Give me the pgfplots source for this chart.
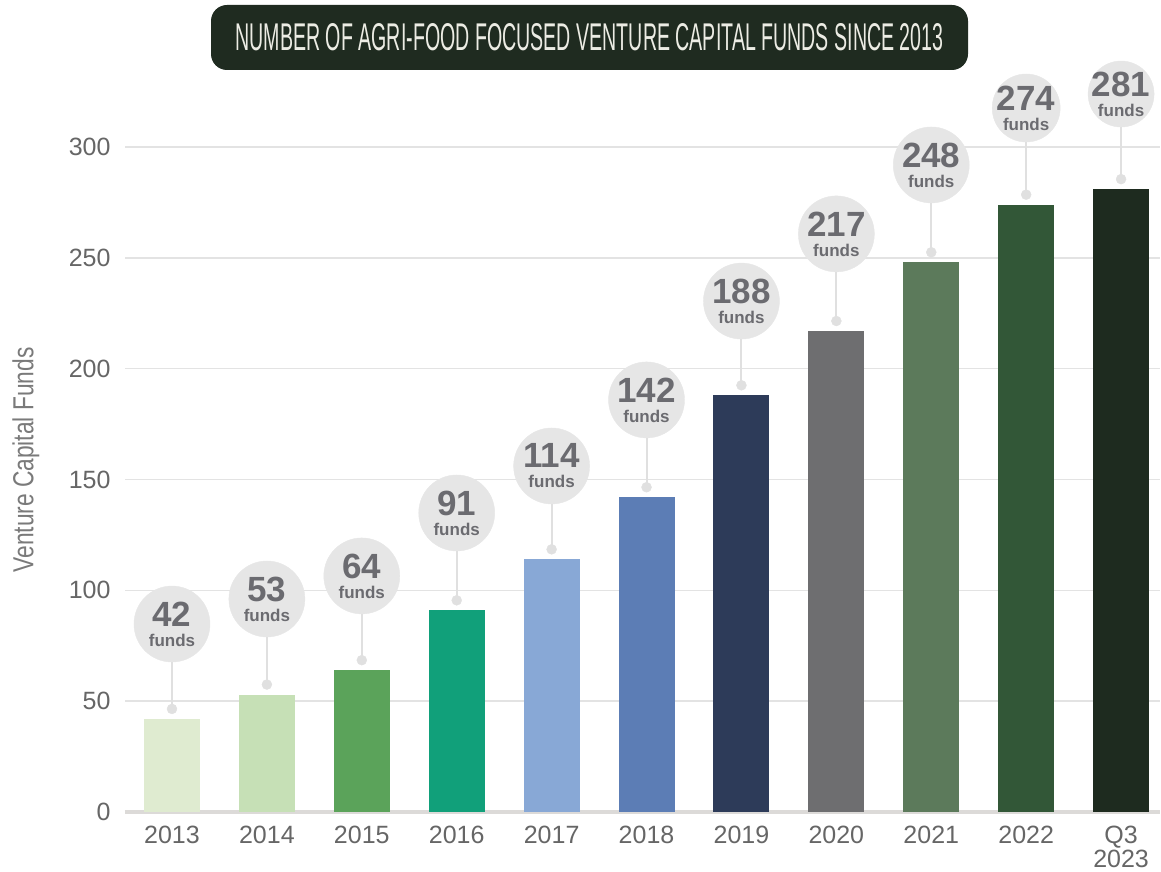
\documentclass[border=0pt]{standalone}
\usepackage{fontspec}
\setmainfont{Liberation Sans}
\usepackage{graphicx}
\usepackage{pgfplots}
\pgfplotsset{compat=1.18}
\usepackage{pgfplotstable}

\definecolor{c13}{HTML}{DFEBD0}
\definecolor{c14}{HTML}{C6E0B6}
\definecolor{c15}{HTML}{5BA35A}
\definecolor{c16}{HTML}{11A07A}
\definecolor{c17}{HTML}{88A8D6}
\definecolor{c18}{HTML}{5C7DB5}
\definecolor{c19}{HTML}{2D3B59}
\definecolor{c20}{HTML}{6E6E70}
\definecolor{c21}{HTML}{5C7A5B}
\definecolor{c22}{HTML}{325737}
\definecolor{c23}{HTML}{1E2B1F}
\definecolor{titlegreen}{HTML}{1F2B20}
\definecolor{titletext}{HTML}{ECECE4}
\definecolor{gridgray}{HTML}{E3E3E3}
\definecolor{axisgray}{HTML}{DCDAD8}
\definecolor{linegray}{HTML}{E0E0E0}
\definecolor{bubgray}{HTML}{E6E6E6}
\definecolor{bubtext}{HTML}{6B6B70}
\definecolor{tickgray}{HTML}{666666}
\definecolor{labelgray}{HTML}{7A7A7A}

\pgfplotstableread{
x val dot bub r lab
0 42 46.5 84.8 38 42
1 53 57.5 96.1 38 53
2 64 68.5 106.5 38 64
3 91 95.5 134.9 38 91
4 114 118.5 156.1 38 114
5 142 146.5 185.9 38 142
6 188 192.5 230.5 38 188
7 217 221.5 260.8 38 217
8 248 252.5 291.9 38 248
9 274 278.5 317.6 34 274
10 281 285.5 323.9 33 281
}\datatable

\begin{document}
\begin{tikzpicture}
\path[use as bounding box] (-125pt,-59pt) rectangle (1036pt,812pt);
\begin{axis}[
  at={(0pt,0pt)}, anchor=south west,
  scale only axis, width=1035pt, height=665pt,
  xmin=-0.495, xmax=10.41, ymin=0, ymax=300,
  clip=false,
  axis x line*=bottom, axis y line*=left,
  x axis line style={draw=axisgray, line width=4.5pt, -},
  y axis line style={draw=none},
  ymajorgrids, grid style={draw=gridgray, line width=1.5pt},
  major tick length=0pt,
  xtick={0,...,10},
  xticklabels={2013,2014,2015,2016,2017,2018,2019,2020,2021,2022,{Q3\\[-2pt]2023}},
  ytick={0,50,...,300},
  tick label style={font=\fontsize{25}{26}\selectfont, text=tickgray},
  xticklabel style={align=center, yshift=-11pt},
  yticklabel style={xshift=-11pt},
  /pgf/number format/assume math mode=true,
]
\addplot[ybar, bar width=56pt, bar shift=0pt, fill=c13, draw=none] coordinates {(0,42)};
\addplot[ybar, bar width=56pt, bar shift=0pt, fill=c14, draw=none] coordinates {(1,53)};
\addplot[ybar, bar width=56pt, bar shift=0pt, fill=c15, draw=none] coordinates {(2,64)};
\addplot[ybar, bar width=56pt, bar shift=0pt, fill=c16, draw=none] coordinates {(3,91)};
\addplot[ybar, bar width=56pt, bar shift=0pt, fill=c17, draw=none] coordinates {(4,114)};
\addplot[ybar, bar width=56pt, bar shift=0pt, fill=c18, draw=none] coordinates {(5,142)};
\addplot[ybar, bar width=56pt, bar shift=0pt, fill=c19, draw=none] coordinates {(6,188)};
\addplot[ybar, bar width=56pt, bar shift=0pt, fill=c20, draw=none] coordinates {(7,217)};
\addplot[ybar, bar width=56pt, bar shift=0pt, fill=c21, draw=none] coordinates {(8,248)};
\addplot[ybar, bar width=56pt, bar shift=0pt, fill=c22, draw=none] coordinates {(9,274)};
\addplot[ybar, bar width=56pt, bar shift=0pt, fill=c23, draw=none] coordinates {(10,281)};
% connector lines
\addplot[draw=none, mark=none,
  error bars/.cd, y dir=plus, y explicit, error mark=none,
  error bar style={color=linegray, line width=2pt}]
  table[x=x, y=dot, y error expr=\thisrow{bub}-\thisrow{dot}] {\datatable};
% dots
\addplot[only marks, color=linegray, mark=*, mark size=5pt, mark options={fill=linegray, draw=linegray}]
  table[x=x, y=dot] {\datatable};
% bubbles
\addplot[scatter, only marks, color=bubgray, mark=*,
  scatter/use mapped color={draw=bubgray, fill=bubgray},
  visualization depends on={\thisrow{r}\as\rad},
  scatter/@pre marker code/.append style={/tikz/mark size=\rad pt}]
  table[x=x, y=bub] {\datatable};
% bubble labels
\addplot[only marks, mark=none, point meta=explicit symbolic,
  nodes near coords={{\fontsize{35}{35}\selectfont\pgfplotspointmeta}\\[2pt]funds},
  nodes near coords align=center,
  every node near coord/.append style={align=center, text=bubtext, inner sep=0pt, anchor=center,
     font=\bfseries\fontsize{17}{18}\selectfont}]
  table[x=x, y=bub, meta=lab] {\datatable};
\end{axis}
\node[fill=titlegreen, rounded corners=16pt, minimum width=757pt, minimum height=65pt, inner sep=0pt] at (464.5pt,774.5pt) {};
\node[inner sep=0pt, text=titletext] at (464.5pt,774.5pt) {\resizebox{708pt}{27pt}{NUMBER OF AGRI-FOOD FOCUSED VENTURE CAPITAL FUNDS SINCE 2013}};
\node[rotate=90, inner sep=0pt, text=labelgray] at (-99pt,352pt) {\resizebox{225pt}{21pt}{Venture Capital Funds}};
\end{tikzpicture}
\end{document}
